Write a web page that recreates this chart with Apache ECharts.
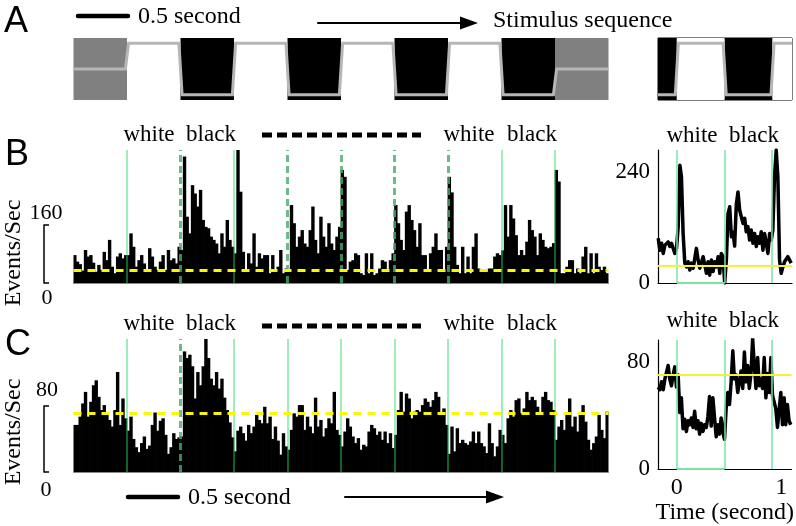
<!DOCTYPE html>
<html>
<head>
<meta charset="utf-8">
<script src="https://cdn.jsdelivr.net/npm/echarts@6/dist/echarts.min.js"></script>
<style>
  html, body { margin: 0; padding: 0; background: #fff; }
  #chart { width: 796px; height: 526px; }
</style>
</head>
<body>
<div id="chart"></div>
<script>
// panel A: stimulus sequence, one entry per 0.5 s segment
const stimMain = ['grey', 'white', 'black', 'white', 'black', 'white', 'black', 'white', 'black', 'grey'];
// panel A right box, in seconds (same axis as the insets)
const stimBox = ['black', 'white', 'black', 'white'];
const stimBoxEdges = [-0.18, 0, 0.457, 0.914, 1.1];

// PSTH, events/sec, 20 bins per segment, 10 segments
const histB = [
  77, 59, 52, 34, 91, 73, 77, 56, 31, 50, 36, 86, 63, 119, 45, 27, 73, 82, 68, 77,
  77, 137, 100, 45, 63, 77, 54, 31, 96, 73, 45, 36, 59, 77, 36, 91, 63, 68, 54, 100,
  91, 349, 183, 137, 270, 247, 211, 257, 174, 155, 151, 128, 119, 109, 82, 137, 100, 174, 119, 100,
  82, 367, 252, 86, 36, 82, 54, 137, 45, 82, 68, 77, 77, 27, 77, 31, 45, 91, 27, 40,
  36, 215, 165, 100, 128, 146, 109, 100, 146, 211, 119, 82, 183, 128, 100, 165, 109, 91, 128, 155,
  312, 293, 36, 59, 63, 82, 77, 27, 22, 82, 27, 82, 22, 27, 40, 63, 59, 31, 63, 82,
  215, 165, 119, 91, 197, 215, 174, 146, 100, 165, 77, 77, 36, 82, 100, 137, 91, 91, 36, 100,
  293, 250, 100, 50, 27, 100, 27, 73, 27, 100, 137, 40, 31, 36, 31, 40, 40, 73, 82, 77,
  90, 215, 128, 215, 178, 132, 77, 91, 77, 114, 174, 146, 128, 77, 137, 119, 100, 96, 100, 110,
  312, 280, 27, 27, 45, 63, 63, 27, 40, 27, 73, 100, 27, 82, 27, 82, 45, 36, 45, 27
];
const histC = [
  57, 57, 67, 83, 97, 67, 85, 105, 111, 91, 75, 81, 71, 63, 55, 75, 121, 57, 89, 65,
  50, 67, 40, 30, 24, 35, 43, 28, 32, 57, 72, 50, 62, 65, 45, 22, 30, 47, 40, 42,
  43, 146, 138, 142, 128, 89, 121, 105, 128, 162, 138, 113, 105, 121, 101, 113, 90, 75, 60, 42,
  25, 50, 55, 47, 38, 57, 47, 55, 69, 63, 59, 79, 59, 67, 40, 55, 38, 21, 47, 31,
  27, 51, 71, 67, 81, 81, 51, 67, 55, 47, 90, 55, 63, 43, 53, 65, 59, 97, 51, 45,
  31, 49, 65, 55, 43, 35, 41, 27, 33, 31, 49, 57, 53, 45, 49, 39, 49, 35, 47, 29,
  45, 75, 97, 73, 95, 89, 65, 73, 75, 73, 81, 89, 85, 79, 87, 97, 91, 71, 77, 57,
  22, 55, 25, 53, 35, 39, 35, 33, 37, 49, 35, 49, 35, 31, 23, 59, 35, 19, 31, 51,
  45, 35, 65, 75, 67, 87, 89, 71, 77, 97, 87, 91, 87, 79, 71, 91, 97, 87, 85, 75,
  39, 55, 63, 51, 69, 89, 55, 67, 49, 69, 81, 61, 39, 27, 35, 43, 69, 51, 41, 73
];
const meanB = 36;
const meanC = 71;
// segment boundaries 1..9
const edgesB = ['solid', 'dashed', 'solid', 'dashed', 'dashed', 'dashed', 'dashed', 'solid', 'solid'];
const edgesC = ['solid', 'dashed', 'solid', 'solid', 'solid', 'solid', 'solid', 'solid', 'solid'];

// averaged response, time in seconds
const insetTime = [
  -0.178, -0.162, -0.146, -0.130, -0.114, -0.098, -0.083, -0.067, -0.051, -0.035,
  -0.019, -0.003, 0.013, 0.029, 0.044, 0.060, 0.076, 0.092, 0.108, 0.124,
  0.140, 0.156, 0.171, 0.187, 0.203, 0.219, 0.235, 0.251, 0.267, 0.283,
  0.298, 0.314, 0.330, 0.346, 0.362, 0.378, 0.394, 0.410, 0.425, 0.441,
  0.457, 0.473, 0.489, 0.505, 0.521, 0.537, 0.552, 0.568, 0.584, 0.600,
  0.616, 0.632, 0.648, 0.663, 0.679, 0.695, 0.711, 0.727, 0.743, 0.759,
  0.775, 0.790, 0.806, 0.822, 0.838, 0.854, 0.870, 0.886, 0.902, 0.917,
  0.933, 0.949, 0.965, 0.981, 0.997, 1.013, 1.029, 1.044, 1.060, 1.076, 1.092
];
const insetB = [
  97, 71, 86, 64, 82, 79, 89, 79, 86, 89,
  64, 75, 122, 255, 230, 107, 43, 35, 46, 28,
  43, 32, 53, 75, 50, 32, 35, 57, 39, 21,
  46, 17, 50, 25, 46, 35, 57, 21, 64, 57,
  0, 50, 150, 165, 100, 110, 80, 170, 197, 158,
  143, 129, 140, 111, 122, 93, 115, 86, 107, 79,
  100, 86, 111, 71, 107, 86, 64, 107, 93, 115,
  230, 288, 230, 50, 21, 35, 46, 43, 57, 50, 43
];
const insetC = [
  61, 59, 65, 59, 67, 66, 77, 67, 62, 70,
  76, 61, 70, 42, 53, 30, 37, 28, 36, 33,
  38, 31, 43, 30, 36, 26, 34, 28, 33, 31,
  39, 54, 32, 53, 38, 24, 33, 26, 38, 28,
  22, 45, 57, 48, 65, 88, 67, 70, 57, 65,
  73, 60, 87, 65, 77, 60, 71, 97, 77, 60,
  83, 62, 67, 60, 83, 53, 71, 57, 83, 55,
  55, 45, 31, 30, 57, 33, 53, 33, 48, 36, 33
];
const insetMeanB = 37;
const insetMeanC = 70;
const insetEdges = [0, 0.457, 0.914];

const SERIF = "'Liberation Serif', 'DejaVu Serif', serif";
const SANS = "'Liberation Sans', Arial, sans-serif";
const lum = { grey: 0.5, white: 1, black: 0 };
const fillOf = { grey: '#808080', white: '#ffffff', black: '#000000' };

const mainEdges = stimMain.map((s, i) => i).concat([stimMain.length]);

function blockData(edges) {
  const out = [];
  for (let i = 0; i < edges.length - 1; i++) out.push([edges[i], edges[i + 1]]);
  return out;
}
function blockSeries(names, edges, axis) {
  return {
    type: 'custom', xAxisIndex: axis, yAxisIndex: axis, z: 1, silent: true,
    data: blockData(edges),
    encode: { x: [0, 1] },
    renderItem: function (params, api) {
      const p0 = api.coord([api.value(0), 1.1]);
      const p1 = api.coord([api.value(1), -0.1]);
      return {
        type: 'rect',
        shape: { x: p0[0], y: p0[1], width: p1[0] - p0[0], height: p1[1] - p0[1] },
        style: { fill: fillOf[names[params.dataIndex]] }
      };
    }
  };
}
function trace(names, edges, d) {
  const pts = [];
  names.forEach((n, i) => {
    pts.push([edges[i] + (i > 0 ? d : 0), lum[n]]);
    pts.push([edges[i + 1] - (i < names.length - 1 ? d : 0), lum[n]]);
  });
  return pts;
}
function traceSeries(names, edges, d, axis) {
  return {
    type: 'line', xAxisIndex: axis, yAxisIndex: axis, z: 3, silent: true,
    data: trace(names, edges, d), showSymbol: false,
    lineStyle: { color: '#b6b6b6', width: 3, join: 'miter' }
  };
}
function boundaryLines(styles) {
  return styles.map((s, i) => ({
    xAxis: i + 1,
    lineStyle: s === 'dashed'
      ? { color: 'rgba(70,170,110,0.8)', width: 3, type: [7, 4] }
      : { color: 'rgba(40,215,100,0.6)', width: 1.5, type: 'solid' }
  }));
}
function helper(xi, yi, lines, z) {
  return {
    type: 'line', xAxisIndex: xi, yAxisIndex: yi, z: z, silent: true,
    data: [[0, 0]], showSymbol: false, lineStyle: { opacity: 0 },
    markLine: { silent: true, symbol: ['none', 'none'], label: { show: false }, data: lines }
  };
}
const yellowDash = v => ({ yAxis: v, lineStyle: { color: '#f8f800', width: 3, type: [8, 6] } });
const insetLines = (m) => insetEdges.map(x => ({ xAxis: x, lineStyle: { color: '#79e3a4', width: 1.5, type: 'solid' } }))
  .concat([
    { yAxis: m, lineStyle: { color: '#f2f23a', width: 2, type: 'solid' } },
    [{ coord: [insetEdges[0], 0], lineStyle: { color: '#79e3a4', width: 2, type: 'solid' } }, { coord: [insetEdges[1], 0] }]
  ]);

const hidden = { show: false };
function hiddenX(min, max, grid) { return { type: 'value', gridIndex: grid, min: min, max: max, show: false }; }
function hiddenY(min, max, grid) { return { type: 'value', gridIndex: grid, min: min, max: max, show: false }; }
function histX(n, grid) {
  return {
    type: 'category', gridIndex: grid, data: Array.from({ length: n }, (_, i) => i),
    axisLine: { show: true, lineStyle: { color: '#888', width: 1 } },
    axisTick: hidden, axisLabel: hidden, splitLine: hidden
  };
}
function bracketY(max, grid) {
  return {
    type: 'value', gridIndex: grid, min: 0, max: max, interval: max,
    axisLine: { show: true, onZero: false, lineStyle: { color: '#000', width: 1.5 } },
    axisTick: { show: true, inside: true, length: 5, lineStyle: { color: '#000', width: 1.5 } },
    axisLabel: hidden, splitLine: hidden
  };
}
function insetX(grid, labels) {
  const ax = {
    type: 'value', gridIndex: grid, min: -0.18, max: 1.1,
    axisLine: { show: true, onZero: false, lineStyle: { color: '#000', width: 1.2 } },
    axisTick: hidden, splitLine: hidden,
    axisLabel: labels ? { customValues: [0, 1], fontFamily: SERIF, fontSize: 24, color: '#000', margin: 7 } : hidden
  };
  if (labels) {
    ax.name = 'Time (second)';
    ax.nameLocation = 'middle';
    ax.nameGap = 27;
    ax.nameTextStyle = { fontFamily: SERIF, fontSize: 24, color: '#000' };
  }
  return ax;
}
function insetY(grid, max, step) {
  return {
    type: 'value', gridIndex: grid, min: 0, max: max, interval: step,
    axisLine: { show: true, onZero: false, lineStyle: { color: '#000', width: 1.2 } },
    axisTick: hidden, splitLine: hidden,
    axisLabel: { fontFamily: SERIF, fontSize: 23, color: '#000', margin: 8, showMaxLabel: false }
  };
}

function txt(x, y, s, size, extra) {
  return Object.assign({
    type: 'text', x: x, y: y, silent: true,
    style: { text: s, fontFamily: SERIF, fontSize: size, fill: '#000', align: 'center', verticalAlign: 'middle' }
  }, extra || {});
}
function leftTxt(x, y, s, size) {
  const t = txt(x, y, s, size);
  t.style.align = 'left';
  return t;
}
function seg(x1, y1, x2, y2, w, dash) {
  return {
    type: 'line', silent: true, shape: { x1: x1, y1: y1, x2: x2, y2: y2 },
    style: { stroke: '#000', lineWidth: w, lineCap: dash ? 'butt' : 'round', lineDash: dash || null }
  };
}
function head(x0, x1, y, h) {
  return { type: 'polygon', silent: true, shape: { points: [[x0, y - h], [x1, y], [x0, y + h]] }, style: { fill: '#000' } };
}
function rot(x, y, s, size) {
  const t = txt(0, 0, s, size);
  t.x = x; t.y = y; t.rotation = Math.PI / 2;
  return t;
}

const graphics = [
  txt(16, 22, 'A', 36), txt(17, 155, 'B', 36), txt(18, 345, 'C', 36),
  seg(78, 16, 128, 16, 4.5), leftTxt(138, 17, '0.5 second', 24),
  seg(318, 23, 464, 23, 2), head(460, 478, 23, 6.5), leftTxt(493, 21, 'Stimulus sequence', 24),
  txt(149, 135, 'white', 23), txt(211, 135, 'black', 23),
  seg(262, 135, 421, 135, 5, [10, 5]),
  txt(469, 135, 'white', 23), txt(532, 135, 'black', 23),
  txt(692, 136, 'white', 23), txt(754, 136, 'black', 23),
  txt(149, 324, 'white', 23), txt(211, 324, 'black', 23),
  seg(262, 326, 421, 326, 5, [10, 5]),
  txt(469, 324, 'white', 23), txt(532, 324, 'black', 23),
  txt(692, 321, 'white', 23), txt(754, 321, 'black', 23),
  txt(46, 213, '160', 22), txt(47, 298, '0', 22),
  txt(47, 390, '80', 22), txt(46, 490, '0', 22),
  rot(14, 253, 'Events/Sec', 24), rot(14, 432, 'Events/Sec', 24),
  seg(128, 497, 178, 497, 4.5), leftTxt(188, 498, '0.5 second', 24),
  seg(345, 497, 490, 497, 2), head(486, 504, 497, 6.5)
];
graphics.forEach(g => { if (g.type === 'text') g.style.fontFamily = (['A', 'B', 'C'].includes(g.style.text) ? SANS : SERIF); });

// bars slightly wider than a bin so neighbours touch without hairline gaps
const barStyle = { color: '#000' };

const option = {
  animation: false,
  backgroundColor: '#fff',
  grid: [
    { left: 73.5, top: 38, width: 535, height: 62 },
    { left: 658, top: 38, width: 134, height: 62, show: true, borderColor: '#000', borderWidth: 1, backgroundColor: '#fff' },
    { left: 73.5, top: 150, width: 535, height: 133 },
    { left: 44, top: 225, width: 10, height: 58 },
    { left: 658, top: 150, width: 134, height: 133 },
    { left: 73.5, top: 339, width: 535, height: 133 },
    { left: 44, top: 406, width: 10, height: 66 },
    { left: 658, top: 340, width: 134, height: 132 }
  ],
  xAxis: [
    hiddenX(0, 10, 0),
    hiddenX(-0.18, 1.1, 1),
    histX(histB.length, 2),
    hiddenX(0, 10, 2),
    hiddenX(0, 1, 3),
    insetX(4, false),
    histX(histC.length, 5),
    hiddenX(0, 10, 5),
    hiddenX(0, 1, 6),
    insetX(7, true)
  ],
  yAxis: [
    hiddenY(-0.1, 1.1, 0),
    hiddenY(-0.1, 1.1, 1),
    hiddenY(0, 367, 2),
    bracketY(160, 3),
    insetY(4, 288, 240),
    hiddenY(0, 161, 5),
    bracketY(80, 6),
    insetY(7, 96, 80)
  ],
  graphic: graphics,
  series: [
    blockSeries(stimMain, mainEdges, 0),
    traceSeries(stimMain, mainEdges, 0.03, 0),
    blockSeries(stimBox, stimBoxEdges, 1),
    traceSeries(stimBox, stimBoxEdges, 0.015, 1),

    { type: 'bar', xAxisIndex: 2, yAxisIndex: 2, data: histB, barWidth: 3.4, itemStyle: barStyle, z: 2, silent: true },
    helper(3, 2, boundaryLines(edgesB).concat([yellowDash(meanB)]), 5),
    helper(5, 4, insetLines(insetMeanB), 2),
    { type: 'line', xAxisIndex: 5, yAxisIndex: 4, data: insetTime.map((t, i) => [t, insetB[i]]), showSymbol: false,
      lineStyle: { color: '#000', width: 3.5, join: 'round' }, z: 4, silent: true },

    { type: 'bar', xAxisIndex: 6, yAxisIndex: 5, data: histC, barWidth: 3.4, itemStyle: barStyle, z: 2, silent: true },
    helper(7, 5, boundaryLines(edgesC).concat([yellowDash(meanC)]), 5),
    helper(9, 7, insetLines(insetMeanC), 2),
    { type: 'line', xAxisIndex: 9, yAxisIndex: 7, data: insetTime.map((t, i) => [t, insetC[i]]), showSymbol: false,
      lineStyle: { color: '#000', width: 3.5, join: 'round' }, z: 4, silent: true }
  ]
};

const chart = echarts.init(document.getElementById('chart'), null, { renderer: 'canvas' });
chart.setOption(option);
</script>
</body>
</html>
